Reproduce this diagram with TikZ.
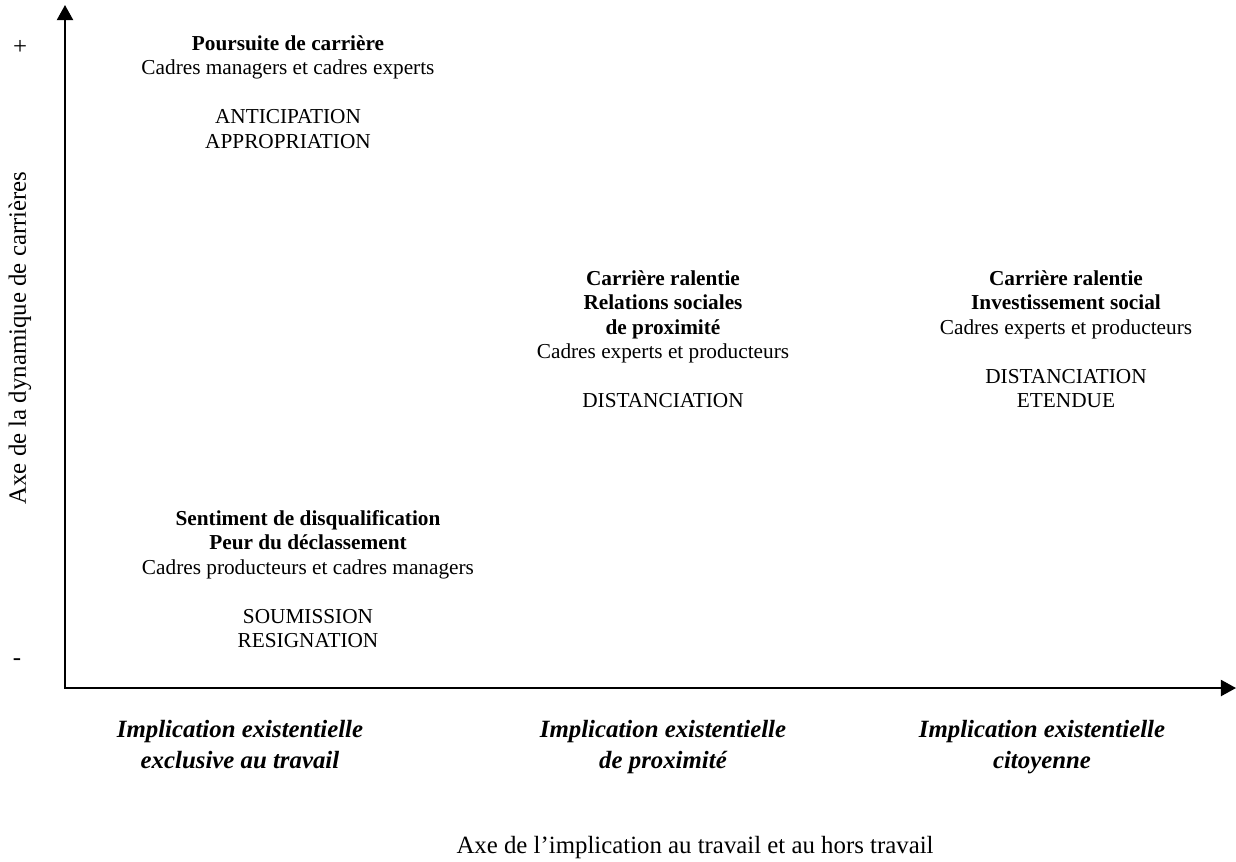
\documentclass[tikz,border=0pt]{standalone}
\usepackage{fontspec}
\setmainfont{Liberation Serif}
\usetikzlibrary{arrows.meta}

\begin{document}
\begin{tikzpicture}[x=0.564pt, y=-0.564pt,
	axe/.style={line width=1.3pt, {Triangle[length=8.5pt,width=9pt]}-{Triangle[length=8.5pt,width=9pt]}},
	bloc/.style={anchor=north, align=center, inner sep=0pt, font=\fontsize{12}{13.8}\selectfont},
	implic/.style={anchor=north, align=center, inner sep=0pt, font=\fontsize{14}{17.5}\selectfont\bfseries\itshape},
	legende/.style={inner sep=0pt, font=\fontsize{14}{16}\selectfont}]
	\useasboundingbox (0,0) rectangle (1236,861);
	\coordinate (ybout) at (65,5);
	\coordinate (origine) at (65,688);
	\coordinate (xbout) at (1236,688);
	\draw[axe] (ybout) |- (xbout);
	\node[legende] (plus) at (20,47) {+};
	\node[legende] (moins) at (17,662) {-};
	\node[legende, rotate=90] (axey) at (20,338) {Axe de la dynamique de carrières};
	\node[legende] (axex) at (695,848) {Axe de l’implication au travail et au hors travail};
	\node[bloc] (poursuite) at (288,35) {\textbf{Poursuite de carrière}\\
		Cadres managers et cadres experts\\[13.8pt]
		ANTICIPATION\\ APPROPRIATION};
	\node[bloc] (relations) at (663,270) {\textbf{Carrière ralentie}\\ \textbf{Relations sociales}\\ \textbf{de proximité}\\
		Cadres experts et producteurs\\[13.8pt]
		DISTANCIATION};
	\node[bloc] (investissement) at (1066,270) {\textbf{Carrière ralentie}\\ \textbf{Investissement social}\\
		Cadres experts et producteurs\\[13.8pt]
		DISTANCIATION\\ ETENDUE};
	\node[bloc] (disqualification) at (308,510) {\textbf{Sentiment de disqualification}\\ \textbf{Peur du déclassement}\\
		Cadres producteurs et cadres managers\\[13.8pt]
		SOUMISSION\\ RESIGNATION};
	\foreach \n/\x/\t in {exclusive/240/{exclusive au travail}, proximite/663/{de proximité}, citoyenne/1042/{citoyenne}} {
		\node[implic] (\n) at (\x,720) {Implication existentielle\\ \t};
	}
\end{tikzpicture}
\end{document}
